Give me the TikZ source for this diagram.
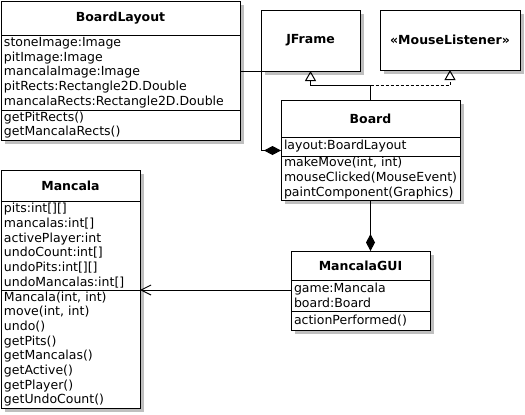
\documentclass[tikz,border=0pt]{standalone}
\usepackage{fontspec}
\setmainfont{DejaVu Sans}
\usetikzlibrary{arrows.meta,shadows}

\begin{document}
\begin{tikzpicture}[x=1pt,y=-1pt,
    every node/.style={font=\fontsize{12.5}{14.7}\selectfont},
    box/.style={draw,fill=white,line width=1pt,anchor=north west,outer sep=0pt,
      inner xsep=3pt,inner ysep=0pt,
      drop shadow={shadow xshift=4pt,shadow yshift=-4pt,fill=black!25,opacity=1}},
    head/.style={box,font=\fontsize{12.5}{14.7}\selectfont\bfseries,align=center},
    part/.style={box,align=left},
    comp/.style={line width=1pt,-{Diamond[length=17pt,width=9pt]}},
    gen/.style={line width=1pt,-{Triangle[open,length=10pt,width=11pt]}},
    real/.style={gen,dash pattern=on 3pt off 2pt},
    nav/.style={line width=1pt,-{Straight Barb[length=10pt,width=10pt]}}]
        \useasboundingbox (0,0) rectangle (525,415);

        % BoardLayout
        \node[head,text width=233pt,minimum height=34pt] (layoutT) at (1,1) {BoardLayout};
        \node[part,text width=233pt,minimum height=75pt] (layoutA) at (layoutT.south west)
          {stoneImage:Image\\pitImage:Image\\mancalaImage:Image\\pitRects:Rectangle2D.Double\\mancalaRects:Rectangle2D.Double};
        \node[part,text width=233pt,minimum height=30pt] (layoutM) at (layoutA.south west)
          {getPitRects()\\getMancalaRects()};

        % JFrame and MouseListener
        \node[head,text width=93pt,minimum height=61pt] (jframe) at (261,10) {JFrame};
        \node[head,text width=134pt,minimum height=60pt] (listener) at (380,10) {«MouseListener»};

        % Board
        \node[head,text width=173pt,minimum height=37pt] (boardT) at (281,100) {Board};
        \node[part,text width=173pt,minimum height=19pt] (boardA) at (boardT.south west)
          {layout:BoardLayout};
        \node[part,text width=173pt,minimum height=44pt] (boardM) at (boardA.south west)
          {makeMove(int, int)\\mouseClicked(MouseEvent)\\paintComponent(Graphics)};

        % Mancala
        \node[head,text width=133pt,minimum height=31pt] (mancalaT) at (1,170) {Mancala};
        \node[part,text width=133pt,minimum height=89pt] (mancalaA) at (mancalaT.south west)
          {pits:int[][]\\mancalas:int[]\\activePlayer:int\\undoCount:int[]\\undoPits:int[][]\\undoMancalas:int[]};
        \node[part,text width=133pt,minimum height=118pt] (mancalaM) at (mancalaA.south west)
          {Mancala(int, int)\\move(int, int)\\undo()\\getPits()\\getMancalas()\\getActive()\\getPlayer()\\getUndoCount()};

        % MancalaGUI
        \node[head,text width=133pt,minimum height=29pt] (guiT) at (291,251) {MancalaGUI};
        \node[part,text width=133pt,minimum height=31pt] (guiA) at (guiT.south west)
          {game:Mancala\\board:Board};
        \node[part,text width=133pt,minimum height=19pt] (guiM) at (guiA.south west)
          {actionPerformed()};

        \coordinate (split) at ([yshift=15pt]boardT.north);

        \draw[comp] (layoutA.east |- jframe.south) -- (jframe.south west) |- ([yshift=-4pt]boardA.west);
        \draw[gen] (boardT.north) -- (split) -| (jframe.south);
        \draw[real] (split) -| (listener.south);
        \draw[comp] (boardM.south) -- (boardM.south |- guiT.north);
        \draw[nav] (guiA.west |- mancalaM.north east) -- (mancalaM.north east);
      \end{tikzpicture}
\end{document}
